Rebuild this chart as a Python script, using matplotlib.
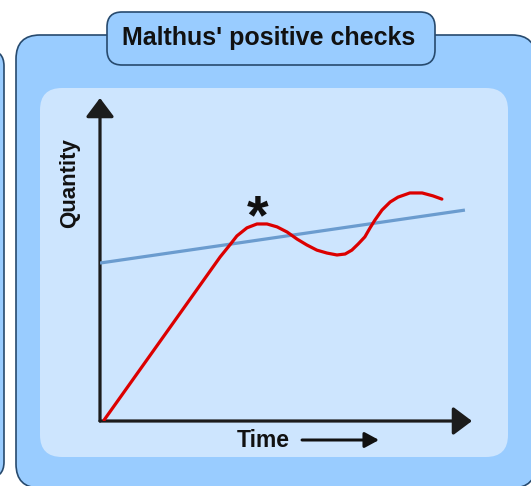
import matplotlib
matplotlib.use("Agg")
import matplotlib.pyplot as plt
from matplotlib.patches import FancyBboxPatch

# ---- data (time 0..100, quantity 0..100) ----
red_time = [1.1, 32.3, 34.9, 36.8, 39.5, 42.2, 44.9, 47.6, 50.3, 53.0, 55.6, 58.3,
            61.0, 63.7, 65.9, 67.7, 69.4, 71.2, 72.6, 73.9, 75.8, 78.0, 80.1, 83.3,
            86.6, 89.5, 91.9]
red_quantity = [0.3, 50.8, 54.5, 57.3, 59.8, 61.0, 61.0, 60.1, 58.5, 56.3, 54.5, 52.9,
                52.0, 51.4, 51.7, 52.9, 54.8, 57.0, 59.8, 62.2, 65.3, 67.8, 69.3, 70.6,
                70.6, 69.7, 68.7]
blue_time = [0.0, 98.1]
blue_quantity = [48.9, 65.3]
star_time, star_quantity = 42.5, 62.4

title = "Malthus' positive checks"
xlabel = "Time"
ylabel = "Quantity"

W, H = 531, 486
fig = plt.figure(figsize=(W / 100, H / 100), dpi=100)
fig.patch.set_facecolor("white")

bg = fig.add_axes([0, 0, 1, 1])
bg.set_xlim(0, W)
bg.set_ylim(H, 0)
bg.axis("off")

border = "#274a6e"
outer_fill = "#99ccff"
inner_fill = "#cde5fe"
text_col = "#111111"
font = "Liberation Sans"

def rbox(x0, y0, x1, y1, r, fc, ec, lw, z):
    p = FancyBboxPatch((x0, y0), x1 - x0, y1 - y0,
                       boxstyle=f"round,pad=0,rounding_size={r}",
                       fc=fc, ec=ec, lw=lw, zorder=z)
    bg.add_patch(p)

# neighbour panel edge on the left
rbox(-60, 50, 4, 478, 16, outer_fill, border, 1.2, 1)
# main panel
rbox(16, 35, 536, 488, 24, outer_fill, border, 1.2, 1)
# inner panel
rbox(40, 88, 508, 457, 22, inner_fill, "none", 0, 2)
# title tab
rbox(107, 12, 435, 65, 15, outer_fill, border, 1.2, 3)
bg.text(269, 45, title, ha="center", va="baseline", fontsize=18,
        fontweight="bold", family=font, color=text_col, zorder=4)

# ---- plot axes ----
x0p, x1p, y0p, y1p = 100, 472, 421, 98
ax = fig.add_axes([x0p / W, (H - y0p) / H, (x1p - x0p) / W, (y0p - y1p) / H])
ax.set_xlim(0, 100)
ax.set_ylim(0, 100)
ax.axis("off")
ax.patch.set_alpha(0)

px = 72 / 100  # points per pixel
axis_col = "#1c1c1c"
for end in [(0, 1), (1, 0)]:
    ax.annotate("", xy=end, xytext=(0, 0), xycoords="axes fraction",
                arrowprops=dict(arrowstyle="-|>,head_length=0.8,head_width=0.6",
                                lw=3.2 * px, color=axis_col, shrinkA=0, shrinkB=0,
                                mutation_scale=20 * px))

ax.plot(blue_time, blue_quantity, color="#6b9ccf", lw=3.2 * px,
        solid_capstyle="butt", zorder=3)
ax.plot(red_time, red_quantity, color="#dc0000", lw=3.2 * px,
        solid_capstyle="round", solid_joinstyle="round", zorder=4)
ax.text(star_time, star_quantity, "*", ha="center", va="center", fontsize=40,
        fontweight="bold", family=font, color=text_col, zorder=5)

# axis labels
bg.text(70, 183, ylabel, rotation=90, ha="center", va="center", fontsize=16,
        fontweight="bold", family=font, color=text_col, zorder=4)
bg.text(263.5, 447, xlabel, ha="center", va="baseline", fontsize=16.5,
        fontweight="bold", family=font, color=text_col, zorder=4)
bg.annotate("", xy=(379, 440), xytext=(302, 440), xycoords="data",
            arrowprops=dict(arrowstyle="-|>,head_length=0.7,head_width=0.38",
                            lw=3 * px, color=text_col, shrinkA=0, shrinkB=0,
                            mutation_scale=17 * px), zorder=4)

fig.savefig("out.png", dpi=100)
